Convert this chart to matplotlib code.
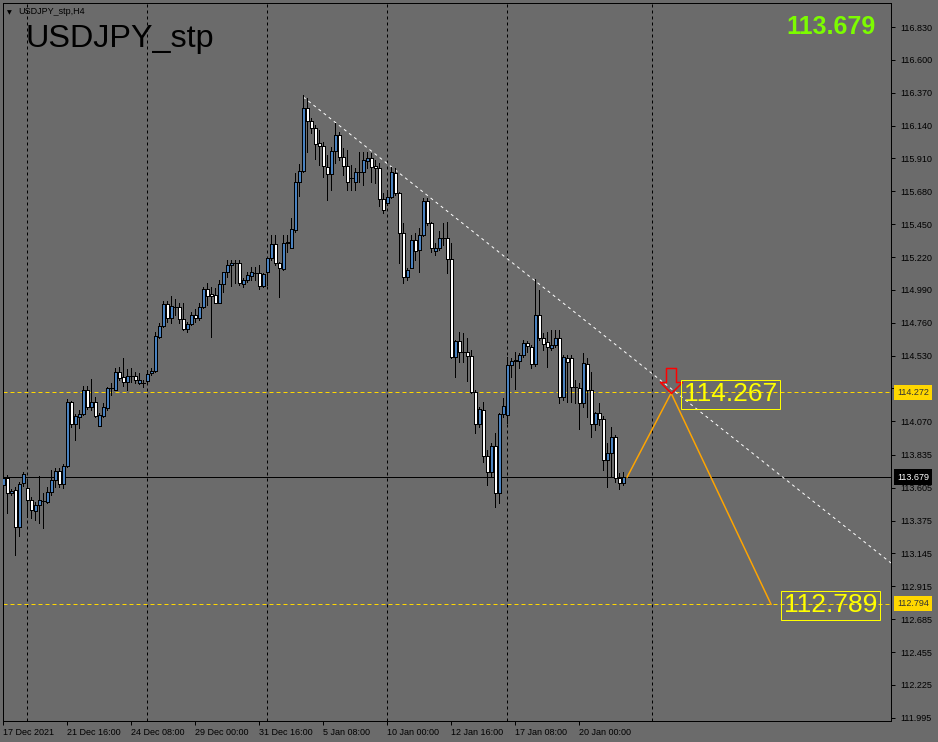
import matplotlib
matplotlib.use("Agg")
import matplotlib.pyplot as plt
from matplotlib.path import Path
from matplotlib.patches import Rectangle
import matplotlib.transforms as mtransforms

# ---------------- data ----------------
symbol = "USDJPY_stp"
timeframe = "H4"

opens = [113.624, 113.673, 113.568, 113.589, 113.330, 113.638, 113.603, 113.519, 113.442, 113.484,
         113.512, 113.505, 113.575, 113.659, 113.722, 113.631, 113.757, 114.205, 114.051, 114.100,
         114.121, 114.289, 114.170, 114.205, 114.037, 114.107, 114.163, 114.303, 114.289, 114.415,
         114.380, 114.345, 114.387, 114.387, 114.338, 114.338, 114.352, 114.408, 114.422, 114.660,
         114.737, 114.891, 114.793, 114.870, 114.870, 114.786, 114.716, 114.751, 114.814, 114.793,
         114.870, 114.996, 114.961, 114.954, 114.898, 115.031, 115.115, 115.164, 115.178, 115.178,
         115.031, 115.059, 115.087, 115.108, 115.108, 115.017, 115.115, 115.213, 115.311, 115.178,
         115.136, 115.318, 115.283, 115.409, 115.745, 115.822, 116.263, 116.172, 116.123, 116.018,
         115.997, 115.850, 115.801, 115.962, 116.074, 115.920, 115.857, 115.773, 115.745, 115.815,
         115.815, 115.892, 115.913, 115.857, 115.843, 115.626, 115.598, 115.640, 115.808, 115.668,
         115.388, 115.080, 115.143, 115.339, 115.269, 115.374, 115.612, 115.458, 115.262, 115.283,
         115.353, 115.353, 115.206, 114.520, 114.632, 114.555, 114.555, 114.527, 114.275, 114.051,
         114.149, 113.827, 113.715, 113.897, 113.568, 114.121, 114.114, 114.464, 114.492, 114.492,
         114.534, 114.618, 114.590, 114.471, 114.814, 114.653, 114.625, 114.583, 114.604, 114.653,
         114.240, 114.513, 114.513, 114.310, 114.303, 114.198, 114.471, 114.289, 114.051, 114.128,
         114.086, 113.799, 113.848, 113.960, 113.673, 113.638]

highs = [113.855, 113.694, 113.596, 113.610, 113.645, 113.715, 113.659, 113.540, 113.505, 113.687,
         113.568, 113.610, 113.729, 113.743, 113.743, 113.771, 114.226, 114.212, 114.121, 114.149,
         114.317, 114.317, 114.366, 114.240, 114.128, 114.198, 114.310, 114.338, 114.443, 114.450,
         114.513, 114.436, 114.443, 114.415, 114.408, 114.359, 114.429, 114.443, 114.695, 114.758,
         114.912, 114.912, 114.947, 114.926, 114.898, 114.898, 114.765, 114.835, 114.856, 114.898,
         115.010, 115.038, 115.010, 115.003, 115.059, 115.115, 115.199, 115.199, 115.199, 115.199,
         115.073, 115.115, 115.150, 115.150, 115.164, 115.108, 115.213, 115.374, 115.374, 115.185,
         115.374, 115.374, 115.493, 115.808, 115.871, 116.354, 116.333, 116.193, 116.144, 116.109,
         116.025, 115.934, 115.990, 116.158, 116.095, 115.983, 115.969, 115.864, 115.843, 115.955,
         115.955, 115.955, 115.948, 115.899, 115.878, 115.668, 115.689, 115.850, 115.843, 115.675,
         115.458, 115.143, 115.374, 115.388, 115.423, 115.633, 115.633, 115.465, 115.318, 115.402,
         115.458, 115.465, 115.318, 114.639, 114.695, 114.688, 114.653, 114.569, 114.289, 114.170,
         114.205, 113.869, 113.918, 113.988, 114.128, 114.233, 114.520, 114.513, 114.555, 114.548,
         114.639, 114.632, 114.604, 115.066, 114.989, 114.688, 114.695, 114.709, 114.709, 114.709,
         114.534, 114.534, 114.534, 114.359, 114.338, 114.548, 114.513, 114.415, 114.135, 114.198,
         114.107, 113.918, 114.030, 113.974, 113.708, 113.715]

lows = [113.540, 113.428, 113.554, 113.134, 113.267, 113.617, 113.400, 113.393, 113.379, 113.358,
        113.323, 113.498, 113.554, 113.610, 113.610, 113.603, 113.750, 114.030, 113.939, 114.023,
        114.114, 114.156, 114.149, 114.100, 114.037, 114.100, 114.149, 114.254, 114.289, 114.359,
        114.317, 114.289, 114.345, 114.338, 114.331, 114.310, 114.338, 114.394, 114.415, 114.653,
        114.730, 114.765, 114.758, 114.814, 114.758, 114.709, 114.695, 114.744, 114.765, 114.779,
        114.863, 114.884, 114.660, 114.898, 114.898, 114.975, 115.080, 115.017, 115.038, 115.024,
        115.010, 115.045, 115.059, 115.059, 114.996, 115.010, 115.024, 115.199, 115.164, 114.940,
        115.129, 115.255, 115.283, 115.395, 115.647, 115.815, 115.955, 116.088, 115.906, 115.864,
        115.780, 115.619, 115.689, 115.878, 115.899, 115.794, 115.689, 115.689, 115.689, 115.745,
        115.724, 115.843, 115.745, 115.738, 115.577, 115.528, 115.584, 115.633, 115.654, 115.178,
        115.038, 115.059, 115.143, 115.199, 115.115, 115.367, 115.444, 115.255, 115.234, 115.269,
        115.304, 115.108, 114.513, 114.380, 114.485, 114.485, 114.352, 114.268, 113.988, 114.030,
        113.785, 113.624, 113.680, 113.470, 113.498, 114.100, 114.058, 114.380, 114.296, 114.443,
        114.520, 114.555, 114.443, 114.457, 114.639, 114.569, 114.450, 114.569, 114.590, 114.198,
        114.219, 114.205, 114.205, 114.198, 114.016, 114.170, 114.100, 113.960, 114.009, 114.044,
        113.729, 113.610, 113.680, 113.645, 113.596, 113.624]

closes = [113.673, 113.568, 113.582, 113.330, 113.631, 113.701, 113.519, 113.449, 113.484, 113.519,
          113.515, 113.575, 113.659, 113.722, 113.631, 113.757, 114.205, 114.051, 114.107, 114.121,
          114.289, 114.170, 114.205, 114.107, 114.114, 114.170, 114.303, 114.300, 114.415, 114.373,
          114.345, 114.387, 114.385, 114.359, 114.359, 114.340, 114.401, 114.422, 114.667, 114.737,
          114.891, 114.793, 114.877, 114.868, 114.786, 114.716, 114.751, 114.814, 114.793, 114.870,
          114.996, 114.947, 114.947, 114.898, 115.031, 115.115, 115.164, 115.178, 115.176, 115.038,
          115.059, 115.094, 115.115, 115.105, 115.017, 115.101, 115.213, 115.311, 115.178, 115.143,
          115.318, 115.325, 115.416, 115.745, 115.822, 116.263, 116.172, 116.123, 116.011, 115.997,
          115.857, 115.801, 115.962, 116.074, 115.920, 115.857, 115.745, 115.770, 115.815, 115.812,
          115.899, 115.913, 115.850, 115.843, 115.626, 115.549, 115.640, 115.815, 115.668, 115.388,
          115.080, 115.129, 115.339, 115.262, 115.374, 115.612, 115.458, 115.283, 115.283, 115.353,
          115.350, 115.206, 114.520, 114.632, 114.555, 114.552, 114.527, 114.275, 114.051, 114.156,
          113.827, 113.715, 113.897, 113.568, 114.121, 114.177, 114.464, 114.492, 114.499, 114.534,
          114.618, 114.597, 114.471, 114.814, 114.653, 114.611, 114.590, 114.604, 114.653, 114.240,
          114.520, 114.485, 114.310, 114.307, 114.198, 114.478, 114.289, 114.051, 114.128, 114.086,
          113.799, 113.848, 113.960, 113.673, 113.638, 113.679]

xtick_bars = [0, 16, 32, 48, 64, 80, 96, 112, 128, 144]
xtick_labels = ["17 Dec 2021", "21 Dec 16:00", "24 Dec 08:00", "29 Dec 00:00", "31 Dec 16:00",
                "5 Jan 08:00", "10 Jan 00:00", "12 Jan 16:00", "17 Jan 08:00", "20 Jan 00:00"]
ytick_values = [116.830, 116.600, 116.370, 116.140, 115.910, 115.680, 115.450, 115.220, 114.990,
                114.760, 114.530, 114.300, 114.070, 113.835, 113.605, 113.375, 113.145, 112.915,
                112.685, 112.455, 112.225, 111.995]
grid_bars = [6, 36, 66, 96, 126, 162.25]

current_price = 113.679
level_high = 114.272
level_low = 112.794

trend_bars = [75, 222]
trend_prices = [116.340, 113.078]

proj_bars = [156, 167, 192]
proj_prices = [113.679, 114.267, 112.789]
proj_labels = ["114.267", "112.789"]

# ---------------- style ----------------
BG = "#6B6B6B"
BULL = "#4A82C0"
BEAR = "#FFFFFF"
GOLD = "#FFD700"
ORANGE = "#FFA500"
PX = 0.72  # one pixel in points at 100 dpi

W, H = 938, 742
fig = plt.figure(figsize=(W / 100, H / 100), dpi=100)
fig.patch.set_facecolor(BG)
left_px, right_px, top_px, bot_px = 3, 891, 3, 721
ax = fig.add_axes([left_px / W, 1 - bot_px / H, (right_px - left_px) / W, (bot_px - top_px) / H])
ax.set_facecolor(BG)
ax.set_xlim(-0.1, (right_px - left_px) / 4)
ax.set_ylim(117.019 - 0.007 * bot_px, 117.019 - 0.007 * top_px)
for s in ax.spines.values():
    s.set_color("black")
    s.set_linewidth(PX)

# grid
for gb in grid_bars:
    ax.axvline(gb, color="black", lw=PX, ls=(0, (3, 3)), zorder=1)

# levels
ax.axhline(level_high, color=GOLD, lw=PX, ls=(0, (4, 3)), zorder=1)
ax.axhline(level_low, color=GOLD, lw=PX, ls=(0, (4, 3)), zorder=1)
ax.axhline(current_price, color="black", lw=PX, zorder=1)

# trend line
ax.plot(trend_bars, trend_prices, color="white", lw=PX, ls=(0, (3, 3.5)), zorder=2)

# candles
bw = 0.72
for i, (o, h, l, c) in enumerate(zip(opens, highs, lows, closes)):
    ax.plot([i, i], [l, h], color="black", lw=PX, zorder=3, solid_capstyle="butt",
            antialiased=False)
    lo, hi = min(o, c), max(o, c)
    fc = BULL if c > o else BEAR
    if abs(c - o) < 0.004:
        ax.plot([i - bw / 2, i + bw / 2], [o, o], color="black", lw=PX, zorder=4,
                antialiased=False)
    else:
        ax.add_patch(Rectangle((i - bw / 2, lo), bw, hi - lo, facecolor=fc, edgecolor="black",
                               lw=PX, zorder=4, antialiased=False))

# projection
ax.plot(proj_bars, proj_prices, color=ORANGE, lw=1.5 * PX, zorder=5)
arrow = Path([(0, 0), (-11, 11), (-5, 11), (-5, 25), (5, 25), (5, 11), (11, 11), (0, 0)],
             [Path.MOVETO] + [Path.LINETO] * 6 + [Path.CLOSEPOLY])
ax.plot([proj_bars[1]], [proj_prices[1]], marker=arrow, markersize=2 * 25 * PX,
        markerfacecolor="none", markeredgecolor="#FF0000", markeredgewidth=1.5 * PX, zorder=6)
for b, p, t in zip(proj_bars[1:], proj_prices[1:], proj_labels):
    ax.annotate(t, xy=(b, p), xytext=(13 * PX, -1 * PX), textcoords="offset points",
                ha="left", va="center", color="#FFFF00", fontsize=19,
                family="Liberation Sans", zorder=7,
                bbox=dict(boxstyle="square,pad=0.1", fc="none", ec="#FFFF00", lw=PX))

# axes ticks
ax.yaxis.tick_right()
ax.set_yticks(ytick_values)
# the 114.300 label sits under the 114.272 price box in the reference
ax.set_yticklabels(["" if abs(v - 114.300) < 1e-6 else f"{v:.3f}" for v in ytick_values])
ax.set_xticks(xtick_bars)
ax.set_xticklabels(xtick_labels, ha="left")
ax.tick_params(axis="y", direction="out", length=3, width=PX, pad=4, labelsize=6.5,
               colors="black", labelfontfamily="Liberation Sans")
ax.tick_params(axis="x", direction="out", length=3, width=PX, pad=2, labelsize=6.5,
               colors="black", labelfontfamily="Liberation Sans")

# right-axis price boxes
tr = mtransforms.blended_transform_factory(ax.transAxes, ax.transData)
for val, fc, tc in [(level_high, GOLD, "#333333"), (level_low, GOLD, "#333333"),
                    (current_price, "black", "white")]:
    ax.text(1.0 + 6 / (right_px - left_px), val, f"{val:.3f}", transform=tr, ha="left",
            va="center", fontsize=6.5, family="Liberation Sans", color=tc, zorder=10,
            clip_on=False, bbox=dict(boxstyle="square,pad=0.35", fc=fc, ec="none"))

# titles
fig.text(25 / W, 1 - 47 / H, symbol, fontsize=23.3, family="Liberation Sans",
         color="black", va="baseline", ha="left")
fig.text(18 / W, 1 - 14 / H, f"{symbol},{timeframe}", fontsize=6.5, family="Liberation Sans",
         color="black", va="baseline", ha="left")
fig.text(7 / W, 1 - 14 / H, "\u25BC", fontsize=4.5, family="DejaVu Sans",
         color="black", va="baseline", ha="left")
fig.text(786 / W, 1 - 34 / H, f"{current_price:.3f}", fontsize=18, family="Liberation Sans",
         weight="bold", color="#7CFC00", va="baseline", ha="left")

fig.savefig("out.png", dpi=100, facecolor=BG)
